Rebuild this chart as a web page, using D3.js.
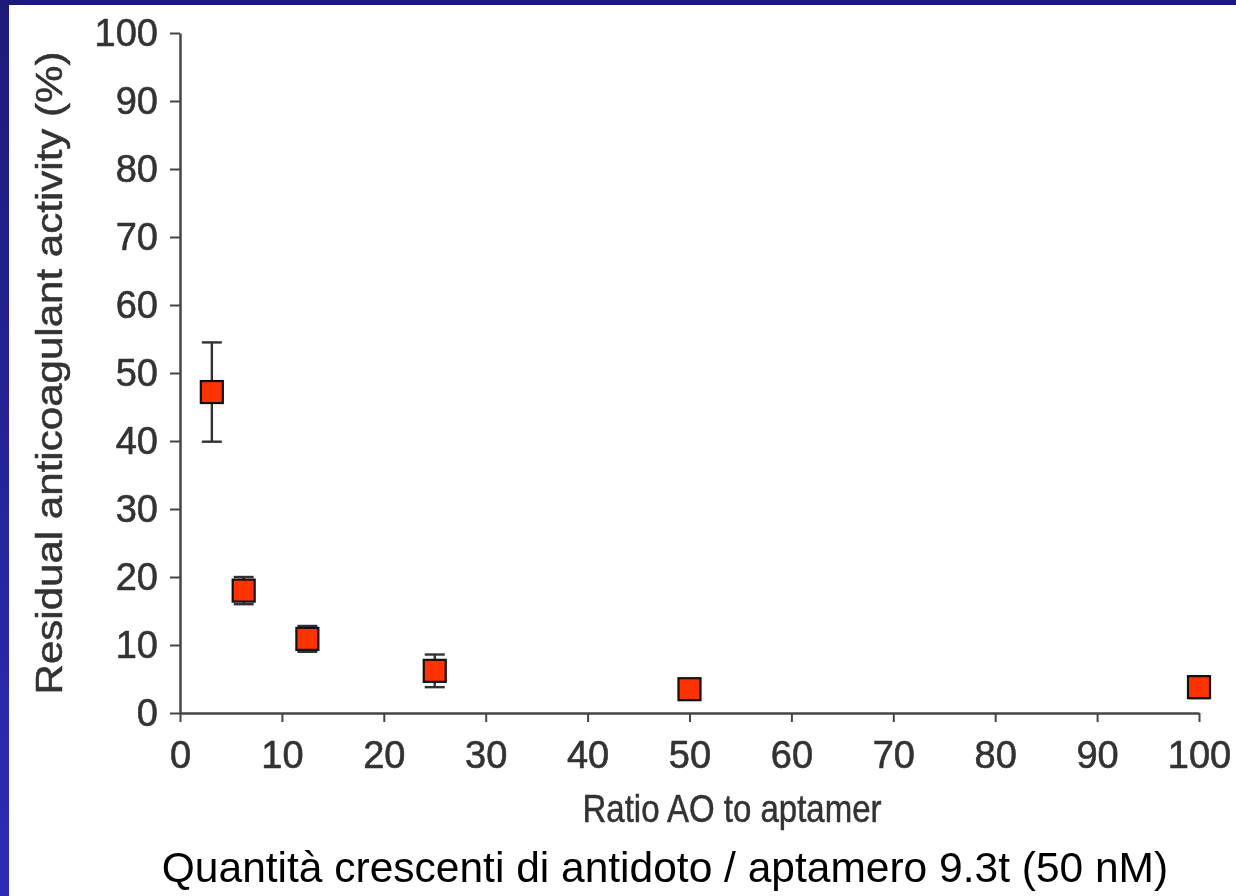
<!DOCTYPE html>
<html>
<head>
<meta charset="utf-8">
<script src="https://cdn.jsdelivr.net/npm/d3@7"></script>
<style>
  body { margin: 0; background: #fff; }
  svg { display: block; }
</style>
</head>
<body>
<script>
// data
const ratios = [3.125, 6.25, 12.5, 25, 50, 100];
const activity = [47.2, 18.0, 10.9, 6.2, 3.5, 3.8];
const errors = [7.3, 2.0, 1.9, 2.4, 0.8, 1.6];
const xTicks = [0, 10, 20, 30, 40, 50, 60, 70, 80, 90, 100];
const yTicks = [0, 10, 20, 30, 40, 50, 60, 70, 80, 90, 100];

const W = 1236;
const H = 896;
const Lpad = 180;
const Rpad = 37;
const Tpad = 33;
const Bpad = 183;

const svg = d3.select("body")
  .append("svg")
  .attr("width", W)
  .attr("height", H);

const defs = svg.append("defs");
const grad = defs.append("linearGradient")
  .attr("id", "sideblue")
  .attr("x1", 0).attr("y1", 0).attr("x2", 0).attr("y2", 1);
grad.append("stop").attr("offset", "0%").attr("stop-color", "#1c1c78");
grad.append("stop").attr("offset", "100%").attr("stop-color", "#2c2cb8");

defs.append("filter")
  .attr("id", "soft")
  .append("feGaussianBlur")
  .attr("stdDeviation", 0.6);

// slide frame
svg.append("rect")
  .attr("x", 0).attr("y", 0)
  .attr("width", W).attr("height", 5)
  .attr("fill", "#1c1c78");
svg.append("rect")
  .attr("x", 0).attr("y", 0)
  .attr("width", 9).attr("height", H)
  .attr("fill", "url(#sideblue)");

const xScale = d3.scaleLinear()
  .domain([0, 100])
  .range([Lpad, W - Rpad]);

const yScale = d3.scaleLinear()
  .domain([0, 100])
  .range([H - Bpad, Tpad]);

const chart = svg.append("g")
  .attr("filter", "url(#soft)");

const xAxis = d3.axisBottom(xScale)
  .tickValues(xTicks)
  .tickSize(9)
  .tickSizeOuter(0)
  .tickPadding(14);

const yAxis = d3.axisLeft(yScale)
  .tickValues(yTicks)
  .tickSize(10)
  .tickSizeOuter(0)
  .tickPadding(12);

const gx = chart.append("g")
  .attr("transform", `translate(0, ${H - Bpad})`)
  .call(xAxis);

const gy = chart.append("g")
  .attr("transform", `translate(${Lpad}, 0)`)
  .call(yAxis);

[gx, gy].forEach(g => {
  g.select(".domain").attr("stroke", "#444").attr("stroke-width", 2.5);
  g.selectAll(".tick line").attr("stroke", "#444").attr("stroke-width", 2);
  g.selectAll(".tick text")
    .attr("fill", "#333")
    .attr("stroke", "#333")
    .attr("stroke-width", 0.6)
    .style("font-family", "'Liberation Sans', Arial, sans-serif")
    .style("font-size", "38px");
});
gx.selectAll(".tick text").attr("dy", "0.85em");

chart.append("text")
  .text("Ratio AO to aptamer")
  .attr("x", 732)
  .attr("y", 822)
  .attr("text-anchor", "middle")
  .attr("fill", "#333")
  .attr("stroke", "#333")
  .attr("stroke-width", 0.5)
  .attr("textLength", 299)
  .attr("lengthAdjust", "spacingAndGlyphs")
  .style("font-family", "'Liberation Sans', Arial, sans-serif")
  .style("font-size", "38px");

chart.append("text")
  .text("Residual anticoagulant activity (%)")
  .attr("transform", "translate(62, 373) rotate(-90)")
  .attr("text-anchor", "middle")
  .attr("fill", "#333")
  .attr("stroke", "#333")
  .attr("stroke-width", 0.5)
  .attr("textLength", 643)
  .attr("lengthAdjust", "spacingAndGlyphs")
  .style("font-family", "'Liberation Sans', Arial, sans-serif")
  .style("font-size", "36px");

// error bars
const pts = ratios.map((r, i) => ({ r: r, v: activity[i], e: errors[i] }));
const capW = 10;

const err = chart.selectAll(".err")
  .data(pts)
  .enter()
  .append("g")
  .attr("class", "err")
  .attr("stroke", "#333")
  .attr("stroke-width", 2.4);

err.append("line")
  .attr("x1", d => xScale(d.r)).attr("x2", d => xScale(d.r))
  .attr("y1", d => yScale(d.v + d.e)).attr("y2", d => yScale(d.v - d.e));
err.append("line")
  .attr("x1", d => xScale(d.r) - capW).attr("x2", d => xScale(d.r) + capW)
  .attr("y1", d => yScale(d.v + d.e)).attr("y2", d => yScale(d.v + d.e));
err.append("line")
  .attr("x1", d => xScale(d.r) - capW).attr("x2", d => xScale(d.r) + capW)
  .attr("y1", d => yScale(d.v - d.e)).attr("y2", d => yScale(d.v - d.e));

// markers
const sq = 22;
svg.selectAll(".pt")
  .data(pts)
  .enter()
  .append("rect")
  .attr("class", "pt")
  .attr("x", d => xScale(d.r) - sq / 2)
  .attr("y", d => yScale(d.v) - sq / 2)
  .attr("width", sq)
  .attr("height", sq)
  .attr("fill", "#ff3300")
  .attr("stroke", "#111")
  .attr("stroke-width", 2.2);

svg.append("text")
  .text("Quantità crescenti di antidoto / aptamero 9.3t (50 nM)")
  .attr("x", 665)
  .attr("y", 882)
  .attr("text-anchor", "middle")
  .attr("fill", "#000")
  .style("font-family", "'Liberation Sans', Arial, sans-serif")
  .style("font-size", "42.5px");
</script>
</body>
</html>
